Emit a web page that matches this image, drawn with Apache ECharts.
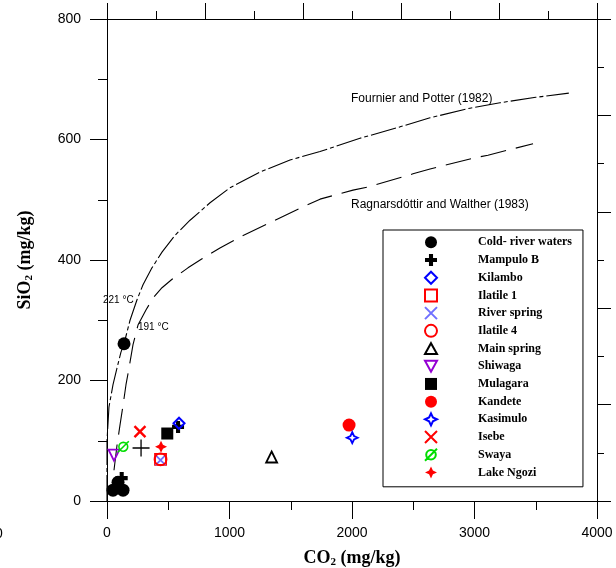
<!DOCTYPE html>
<html>
<head>
<meta charset="utf-8">
<script src="https://cdn.jsdelivr.net/npm/echarts@6/dist/echarts.min.js"></script>
<style>
html,body{margin:0;padding:0;background:#fff;}
#chart{width:616px;height:568px;}
</style>
</head>
<body>
<div id="chart"></div>
<script>
// ---- axis ranges ----
const xMin = 0, xMax = 4000, xStep = 1000;
const yMin = 0, yMax = 800, yStep = 200;

// ---- series data: [CO2 mg/kg, SiO2 mg/kg] ----
const coldRiver   = [[49, 18], [131, 18], [90, 31], [139, 261]];
const mampuloB    = [[120, 38], [580, 123]];
const kilambo     = [[588, 129]];
const ilatile1    = [[437, 69]];
const riverSpring = [[437, 68]];
const ilatile4    = [[437, 69]];
const mainSpring  = [[1344, 73]];
const shiwaga     = [[57, 76]];
const mulagara    = [[492, 112]];
const kandete     = [[1976, 126]];
const kasimulo    = [[2002, 105]];
const isebe       = [[269, 115]];
const swaya       = [[133, 90]];
const lakeNgozi   = [[441, 90]];
const unlabeledPlus = [[278, 88]];

// ---- reference curves ----
const fournierPotter = [[0,0],[0,100],[16,156],[49,193],[82,221],[114,247],[139,261],[188,300],[245,334],[294,359],[367,387],[449,413],[555,441],[678,466],[841,495],[1004,520],[1249,546],[1494,566],[1739,580],[2065,602],[2392,621],[2637,636],[2963,652],[3208,661],[3500,670],[3770,677]];
const ragnarsdottir = [[57,51],[82,93],[106,126],[131,159],[155,193],[180,221],[212,259],[253,292],[318,317],[376,337],[449,354],[531,368],[661,387],[776,402],[922,420],[1086,438],[1331,462],[1576,486],[1739,501],[2008,516],[2147,522],[2498,543],[2637,551],[2988,569],[3110,574],[3478,593]];

const legendNames = ['Cold- river waters','Mampulo B','Kilambo','Ilatile 1','River spring','Ilatile 4','Main spring','Shiwaga','Mulagara','Kandete','Kasimulo','Isebe','Swaya','Lake Ngozi'];

// ---- symbols ----
const SYM = {
  circle: 'path://M5,0A5,5,0,1,1,5,10A5,5,0,1,1,5,0Z',
  square: 'path://M0,0L10,0L10,10L0,10Z',
  diamond: 'path://M5,0L10,5L5,10L0,5Z',
  triUp: 'path://M5,0L10,9L0,9Z',
  triDown: 'path://M0,0L10,0L5,9Z',
  xCross: 'path://M0,0L10,10M10,0L0,10',
  plusThick: 'path://M3.3,0L6.7,0L6.7,3.3L10,3.3L10,6.7L6.7,6.7L6.7,10L3.3,10L3.3,6.7L0,6.7L0,3.3L3.3,3.3Z',
  plusThin: 'path://M5,0L5,10M0,5L10,5',
  star4: 'path://M5,0L6.6,3.4L10,5L6.6,6.6L5,10L3.4,6.6L0,5L3.4,3.4Z',
  slashCircle: 'path://M8.2,5A3.2,3.2,0,1,1,1.8,5A3.2,3.2,0,1,1,8.2,5ZM1,9L9,1'
};
const NONE = 'rgba(0,0,0,0)';

function sc(name, data, symbol, size, fill, stroke, bw) {
  return {
    name: name, type: 'scatter', data: data, symbol: symbol, symbolSize: size,
    itemStyle: { color: fill, borderColor: stroke || fill, borderWidth: bw || 0, opacity: 1 },
    emphasis: { disabled: true }, z: 5
  };
}

const series = [
  { name: 'Fournier and Potter (1982)', type: 'line', data: fournierPotter, showSymbol: false, symbol: 'none',
    lineStyle: { color: '#000', width: 1.1, type: [26, 3, 4, 3] }, z: 2, silent: true },
  { name: 'Ragnarsdóttir and Walther (1983)', type: 'line', data: ragnarsdottir, showSymbol: false, symbol: 'none',
    lineStyle: { color: '#000', width: 1.1, type: [26, 10] }, z: 2, silent: true },
  sc('Cold- river waters', coldRiver, SYM.circle, 13, '#000'),
  sc('Mampulo B', mampuloB, SYM.plusThick, 12, '#000'),
  sc('Kilambo', kilambo, SYM.diamond, 11, NONE, '#0000ff', 2),
  sc('Ilatile 1', ilatile1, SYM.square, 11, NONE, '#ff0000', 1.8),
  sc('River spring', riverSpring, SYM.xCross, 10, NONE, '#7070ff', 1.8),
  sc('Ilatile 4', ilatile4, SYM.circle, 12, NONE, '#ff0000', 1.8),
  sc('Main spring', mainSpring, SYM.triUp, 11, NONE, '#000', 1.8),
  sc('Shiwaga', shiwaga, SYM.triDown, 11, NONE, '#9400d3', 1.8),
  sc('Mulagara', mulagara, SYM.square, 12, '#000'),
  sc('Kandete', kandete, SYM.circle, 13, '#ff0000'),
  sc('Kasimulo', kasimulo, SYM.star4, 11, NONE, '#0000ff', 1.8),
  sc('Isebe', isebe, SYM.xCross, 11, NONE, '#ff0000', 2.4),
  sc('Swaya', swaya, SYM.slashCircle, 11, NONE, '#00dd00', 1.6),
  sc('Lake Ngozi', lakeNgozi, SYM.star4, 12, '#ff0000'),
  sc('', unlabeledPlus, SYM.plusThin, 17, NONE, '#000', 1.3)
];

const tickColor = '#000';
const nameRich = {
  b: { fontFamily: '"Liberation Serif","Times New Roman",serif', fontWeight: 'bold', fontSize: 18, lineHeight: 20, color: '#000' },
  s: { fontFamily: '"Liberation Serif","Times New Roman",serif', fontWeight: 'bold', fontSize: 11, lineHeight: 8, verticalAlign: 'bottom', color: '#000' }
};
const labelStyle = { fontFamily: '"Liberation Sans",Arial,sans-serif', fontSize: 14, color: '#000', formatter: function (v) { return String(v); } };

const option = {
  animation: false,
  backgroundColor: '#fff',
  grid: { left: 107, right: 19, top: 19, bottom: 67, containLabel: false, outerBoundsMode: 'none' },
  xAxis: [
    { type: 'value', position: 'bottom', min: xMin, max: xMax, interval: xStep,
      axisLine: { show: true, onZero: false, lineStyle: { color: tickColor, width: 1 } },
      axisTick: { show: true, length: 18, lineStyle: { color: tickColor, width: 1 } },
      minorTick: { show: true, splitNumber: 2, length: 9, lineStyle: { color: tickColor, width: 1 } },
      splitLine: { show: false },
      axisLabel: Object.assign({ margin: 25 }, labelStyle),
      name: '{b|CO}{s|2}{b| (mg/kg)}', nameLocation: 'middle', nameGap: 47,
      nameTextStyle: { rich: nameRich } },
    { type: 'value', position: 'top', min: xMin, max: xMax, interval: 800,
      axisLine: { show: true, onZero: false, lineStyle: { color: tickColor, width: 1 } },
      axisTick: { show: true, length: 16, lineStyle: { color: tickColor, width: 1 } },
      minorTick: { show: true, splitNumber: 2, length: 8, lineStyle: { color: tickColor, width: 1 } },
      splitLine: { show: false }, axisLabel: { show: false } }
  ],
  yAxis: [
    { type: 'value', position: 'left', min: yMin, max: yMax, interval: yStep,
      axisLine: { show: true, onZero: false, lineStyle: { color: tickColor, width: 1 } },
      axisTick: { show: true, length: 17, lineStyle: { color: tickColor, width: 1 } },
      minorTick: { show: true, splitNumber: 2, length: 9, lineStyle: { color: tickColor, width: 1 } },
      splitLine: { show: false },
      axisLabel: Object.assign({ margin: 26 }, labelStyle),
      name: '{b|SiO}{s|2}{b| (mg/kg)}', nameLocation: 'middle', nameGap: 72,
      nameTextStyle: { rich: nameRich } },
    { type: 'value', position: 'right', min: yMin, max: yMax, interval: 160,
      axisLine: { show: true, onZero: false, lineStyle: { color: tickColor, width: 1 } },
      axisTick: { show: true, length: 14, lineStyle: { color: tickColor, width: 1 } },
      minorTick: { show: true, splitNumber: 2, length: 7, lineStyle: { color: tickColor, width: 1 } },
      splitLine: { show: false }, axisLabel: { show: false } }
  ],
  legend: {
    data: legendNames,
    orient: 'vertical', left: 383, top: 230,
    padding: [3.5, 11, 5.5, 41],
    borderColor: '#000', borderWidth: 1, backgroundColor: '#fff',
    itemWidth: 12, itemHeight: 12, itemGap: 0,
    symbolKeepAspect: true, selectedMode: false,
    textStyle: { fontFamily: '"Liberation Serif","Times New Roman",serif', fontWeight: 'bold', fontSize: 12, lineHeight: 17.7, color: '#000', padding: [0, 0, 0, 36] }
  },
  graphic: [
    { type: 'text', x: 351, y: 99, silent: true, style: { text: 'Fournier and Potter (1982)', fontFamily: '"Liberation Sans",Arial,sans-serif', fontSize: 12, fill: '#000', verticalAlign: 'middle' } },
    { type: 'text', x: 351, y: 205, silent: true, style: { text: 'Ragnarsdóttir and Walther (1983)', fontFamily: '"Liberation Sans",Arial,sans-serif', fontSize: 12, fill: '#000', verticalAlign: 'middle' } },
    { type: 'text', x: 103, y: 300, silent: true, style: { text: '221 °C', fontFamily: '"Liberation Sans",Arial,sans-serif', fontSize: 10, fill: '#000', verticalAlign: 'middle' } },
    { type: 'text', x: 138, y: 327, silent: true, style: { text: '191 °C', fontFamily: '"Liberation Sans",Arial,sans-serif', fontSize: 10, fill: '#000', verticalAlign: 'middle' } },
    { type: 'text', x: -5, y: 534, silent: true, style: { text: '0', fontFamily: '"Liberation Sans",Arial,sans-serif', fontSize: 14, fill: '#000', verticalAlign: 'middle' } }
  ],
  series: series
};

const chart = echarts.init(document.getElementById('chart'), null, { renderer: 'canvas' });
chart.setOption(option);
</script>
</body>
</html>
